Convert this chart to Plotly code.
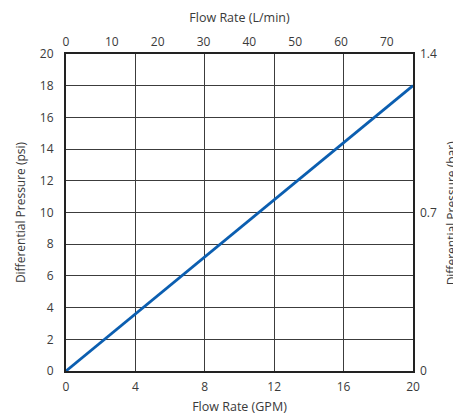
import plotly.graph_objects as go

flow_gpm = [0, 20]
pressure_psi = [0, 18]

gpm_ticks = [0, 4, 8, 12, 16, 20]
lpm_ticks = [0, 10, 20, 30, 40, 50, 60, 70]
psi_ticks = [0, 2, 4, 6, 8, 10, 12, 14, 16, 18, 20]
bar_ticks = [0, 0.7, 1.4]
bar_labels = ["0", "0.7", "1.4"]

FONT = "Open Sans, sans-serif"
TXT = "#3a3a3a"

fig = go.Figure()
fig.add_trace(go.Scatter(x=flow_gpm, y=pressure_psi, mode="lines",
                         line=dict(color="#0b5eb0", width=2.8),
                         showlegend=False, hoverinfo="skip"))
fig.add_trace(go.Scatter(x=[0], y=[0], xaxis="x2", yaxis="y2", mode="markers",
                         marker=dict(opacity=0), showlegend=False, hoverinfo="skip"))

fig.update_layout(
    width=453, height=417,
    margin=dict(l=66, r=40, t=54, b=46),
    plot_bgcolor="white", paper_bgcolor="white",
    font=dict(family=FONT, size=12, color=TXT),
    xaxis=dict(range=[0, 20], tickvals=gpm_ticks, showgrid=True,
               gridcolor="#3c3c3c", gridwidth=1, zeroline=False,
               showline=True, linecolor="#222", linewidth=2, mirror=True,
               ticks="", ticklabelstandoff=4, automargin=False,
               title=dict(text="Flow Rate (GPM)", standoff=8,
                          font=dict(size=12.5, color=TXT))),
    xaxis2=dict(range=[0, 75.7], tickvals=lpm_ticks, overlaying="x", side="top",
                showgrid=False, zeroline=False, showline=False, ticks="",
                ticklabelstandoff=5, automargin=False,
                title=dict(text="Flow Rate (L/min)", standoff=7,
                           font=dict(size=12.5, color=TXT))),
    yaxis=dict(range=[0, 20], tickvals=psi_ticks, showgrid=True,
               gridcolor="#3c3c3c", gridwidth=1, zeroline=False,
               showline=True, linecolor="#222", linewidth=2, mirror=True,
               ticks="", ticklabelstandoff=8, automargin=False,
               title=dict(text="Differential Pressure (psi)", standoff=12,
                          font=dict(size=12, color=TXT))),
    yaxis2=dict(range=[0, 1.4], tickvals=bar_ticks, ticktext=bar_labels,
                overlaying="y", side="right", showgrid=False, zeroline=False,
                showline=False, ticks="", ticklabelstandoff=6, automargin=False),
    annotations=[dict(text="Differential Pressure (bar)", xref="paper", yref="paper",
                      x=1.112, y=0.5, xanchor="center", yanchor="middle",
                      textangle=-90, showarrow=False,
                      font=dict(size=12, color=TXT))],
)

fig.write_html("out.html", config={"displayModeBar": False},
               post_script="document.body.style.margin='0';document.body.style.overflow='hidden';")
